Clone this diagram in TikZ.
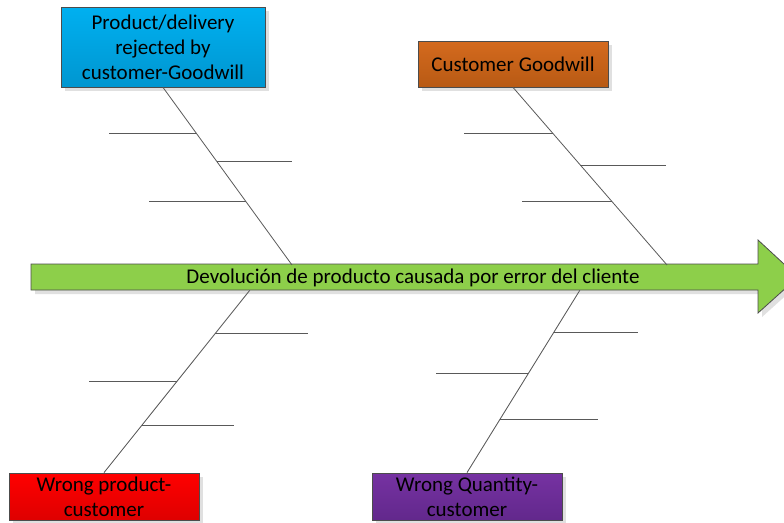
\documentclass[tikz,border=0pt]{standalone}
\usepackage{fontspec}
\setmainfont{Carlito}
\usetikzlibrary{calc,positioning,shadows}

\definecolor{bluetop}{RGB}{0,176,240}
\definecolor{bluebot}{RGB}{0,150,208}
\definecolor{orangetop}{RGB}{212,106,30}
\definecolor{orangebot}{RGB}{184,90,20}
\definecolor{redtop}{RGB}{255,0,0}
\definecolor{redbot}{RGB}{222,0,0}
\definecolor{purpletop}{RGB}{118,50,162}
\definecolor{purplebot}{RGB}{98,40,140}
\definecolor{spinegreen}{RGB}{141,207,74}

\begin{document}
\begin{tikzpicture}[x=1pt,y=-1pt]
       \tikzstyle{every node}=[font=\fontsize{21}{25}\selectfont]
       \tikzstyle{cause}=[draw=black!70, line width=0.8pt, align=center, inner sep=0pt,
                          minimum width=190pt, minimum height=47pt,
                          drop shadow={shadow xshift=4pt, shadow yshift=-4pt, fill=black!12, opacity=1}]
       \tikzstyle{bone}=[draw=black!65, line width=0.8pt]
       \tikzstyle{ghost}=[draw=black!12, line width=0.8pt, xshift=4pt, yshift=-4pt]

       \useasboundingbox (0,0) rectangle (784,522);

       % effect arrow
       \fill[black!12, xshift=4pt, yshift=-4pt] (31,264) -- (758,264) -- (758,240) -- (798,277)
             -- (758,313) -- (758,290) -- (31,290) -- cycle;
       \draw[draw=black!70, line width=0.8pt, fill=spinegreen] (31,264) -- (758,264) -- (758,240)
             -- (798,277) -- (758,313) -- (758,290) -- (31,290) -- cycle;
       \node (effect) at (413,278) {Devolución de producto causada por error del cliente};

       \coordinate (j_1) at (292,265);
       \coordinate (j_2) at (667,265);
       \coordinate (j_3) at (250,290);
       \coordinate (j_4) at (580,290);

       % causes
       \node[cause, top color=bluetop, bottom color=bluebot, minimum width=204pt, minimum height=80pt]
             (c_1) at (163,47) {Product/delivery\\rejected by\\customer-Goodwill};
       \node[cause, top color=orangetop, bottom color=orangebot, minimum height=46pt]
             (c_2) at (513,64) {Customer Goodwill};
       \node[cause, top color=redtop, bottom color=redbot]
             (c_3) at (104,496.5) {Wrong product-\\customer};
       \node[cause, top color=purpletop, bottom color=purplebot]
             (c_4) at (467,496.5) {Wrong Quantity-\\customer};

       % spines
       \path[ghost] (c_3.north) edge (j_3)
                    (c_4.north) edge (j_4);
       \path[bone] (c_1.south) edge (j_1)
                   (c_2.south) edge (j_2)
                   (c_3.north) edge (j_3)
                   (c_4.north) edge (j_4);

       % ribs
       \foreach \c/\i/\t/\len in {1/1/.258/-87, 1/2/.416/75, 1/3/.640/-97,
                                  2/1/.258/-89, 2/2/.438/86, 2/3/.640/-90}
         \coordinate (r_\c_\i) at ($(c_\c.south)!\t!(j_\c)$);
       \foreach \c/\i/\t/\len in {3/1/.760/93, 3/2/.497/-88, 3/3/.257/92,
                                  4/1/.770/84, 4/2/.541/-92, 4/3/.290/98}
         \coordinate (r_\c_\i) at ($(c_\c.north)!\t!(j_\c)$);

       \foreach \c/\i/\len in {1/1/-87, 1/2/75, 1/3/-97, 2/1/-89, 2/2/86, 2/3/-90,
                               3/1/93, 3/2/-88, 3/3/92, 4/1/84, 4/2/-92, 4/3/98}
       {
         \draw[ghost] (r_\c_\i) -- ++(\len,0);
         \draw[bone] (r_\c_\i) -- ++(\len,0);
       }
\end{tikzpicture}
\end{document}
